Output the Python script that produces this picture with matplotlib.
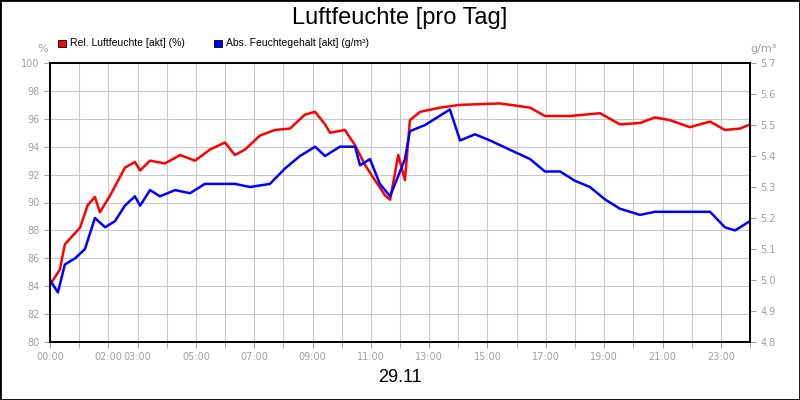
import matplotlib
matplotlib.use("Agg")
import matplotlib.pyplot as plt
from matplotlib.patches import Rectangle

# hours of day, relative humidity (%)
rel_hours = [0.0, 0.34, 0.51, 1.03, 1.29, 1.54, 1.71, 2.06, 2.57, 2.91, 3.09, 3.43, 3.94, 4.46,
             4.97, 5.49, 6.0, 6.34, 6.69, 7.2, 7.71, 8.23, 8.74, 9.09, 9.43, 9.6, 10.11, 10.46,
             10.8, 11.14, 11.49, 11.66, 11.94, 12.17, 12.34, 12.69, 13.37, 14.06, 15.43, 16.46,
             16.97, 17.83, 18.86, 19.54, 20.23, 20.74, 21.26, 21.94, 22.63, 23.14, 23.66, 24.0]
rel_values = [84.1, 85.2, 87.0, 88.2, 89.8, 90.4, 89.3, 90.5, 92.5, 92.9, 92.3, 93.0, 92.8, 93.4,
              93.0, 93.8, 94.3, 93.4, 93.8, 94.8, 95.2, 95.3, 96.3, 96.5, 95.6, 95.0, 95.2, 94.1,
              92.7, 91.6, 90.5, 90.2, 93.4, 91.6, 95.9, 96.5, 96.8, 97.0, 97.1, 96.8,
              96.2, 96.2, 96.4, 95.6, 95.7, 96.1, 95.9, 95.4, 95.8, 95.2, 95.3, 95.6]

# hours of day, absolute humidity (g/m³)
abs_hours = [0.0, 0.27, 0.51, 0.86, 1.2, 1.54, 1.89, 2.23, 2.57, 2.91, 3.09, 3.43, 3.77, 4.29,
             4.8, 5.31, 5.83, 6.34, 6.86, 7.54, 8.06, 8.57, 9.09, 9.43, 9.94, 10.46, 10.63,
             10.97, 11.31, 11.66, 11.83, 12.17, 12.34, 12.86, 13.37, 13.71, 14.06, 14.57, 15.09,
             15.77, 16.46, 16.97, 17.49, 18.0, 18.51, 19.03, 19.54, 20.23, 20.74, 21.26, 21.77,
             22.29, 22.63, 23.14, 23.49, 24.0]
abs_values = [5.00, 4.96, 5.05, 5.07, 5.10, 5.20, 5.17, 5.19, 5.24, 5.27, 5.24, 5.29, 5.27, 5.29,
              5.28, 5.31, 5.31, 5.31, 5.30, 5.31, 5.36, 5.40, 5.43, 5.40, 5.43, 5.43, 5.37,
              5.39, 5.31, 5.27, 5.31, 5.39, 5.48, 5.50, 5.53, 5.55, 5.45, 5.47, 5.45,
              5.42, 5.39, 5.35, 5.35, 5.32, 5.30, 5.26, 5.23, 5.21, 5.22, 5.22, 5.22,
              5.22, 5.22, 5.17, 5.16, 5.19]

xtick_pos = [0, 2, 3, 5, 7, 9, 11, 13, 15, 17, 19, 21, 23]
xtick_labels = ["00:00", "02:00", "03:00", "05:00", "07:00", "09:00", "11:00", "13:00",
                "15:00", "17:00", "19:00", "21:00", "23:00"]

gray = "#a0a0a0"
fig = plt.figure(figsize=(8, 4), dpi=100)
fig.patches.append(Rectangle((0, 0), 1, 1, transform=fig.transFigure, fill=False,
                             edgecolor="black", linewidth=2))
ax = fig.add_axes([0.0625, 0.145, 0.875, 0.6975])
ax2 = ax.twinx()

ax.set_xlim(0, 24)
ax.set_ylim(80, 100)
ax2.set_ylim(4.8, 5.7)
ax.set_yticks(range(80, 101, 2))
ax2.set_yticks([4.8 + 0.1 * i for i in range(10)])
ax2.set_yticklabels([f"{4.8 + 0.1 * i:.1f}" for i in range(10)])
ax.set_xticks(range(25), minor=True)
ax.set_xticks(xtick_pos)
ax.set_xticklabels(xtick_labels)
ax.grid(True, which="both", color="#c8c8c8", linewidth=0.8)
ax.set_axisbelow(True)
for a in (ax, ax2):
    a.tick_params(colors=gray, labelsize=7, length=4, width=0.8)
    a.tick_params(which="minor", colors=gray, length=4)
    for s in a.spines.values():
        s.set_color("black")
        s.set_linewidth(1.2)
for lab in ax.get_xticklabels() + ax.get_yticklabels() + ax2.get_yticklabels():
    lab.set_family("Liberation Sans Narrow") if False else None

ax.plot(rel_hours, rel_values, color="#ff0000", linewidth=1.8)
ax2.plot(abs_hours, abs_values, color="#0000ff", linewidth=1.8)

fig.text(0.5, 0.955, "Luftfeuchte [pro Tag]", ha="center", va="center", fontsize=17,
         family="Liberation Sans")
fig.text(0.5, 0.055, "29.11", ha="center", va="center", fontsize=13, family="Liberation Sans")
fig.text(0.053, 0.878, "%", ha="center", va="center", fontsize=8, color=gray)
fig.text(0.955, 0.878, "g/m³", ha="center", va="center", fontsize=8, color=gray)

for x0, col, lab in [(0.073, "#ff0000", "Rel. Luftfeuchte [akt] (%)"),
                     (0.268, "#0000ff", "Abs. Feuchtegehalt [akt] (g/m³)")]:
    fig.patches.append(Rectangle((x0, 0.883), 0.009, 0.018, transform=fig.transFigure,
                                 facecolor=col, edgecolor="black", linewidth=0.6))
    fig.text(x0 + 0.014, 0.892, lab, ha="left", va="center", fontsize=7.5,
             family="Liberation Sans")

fig.savefig("out.png", dpi=100)
